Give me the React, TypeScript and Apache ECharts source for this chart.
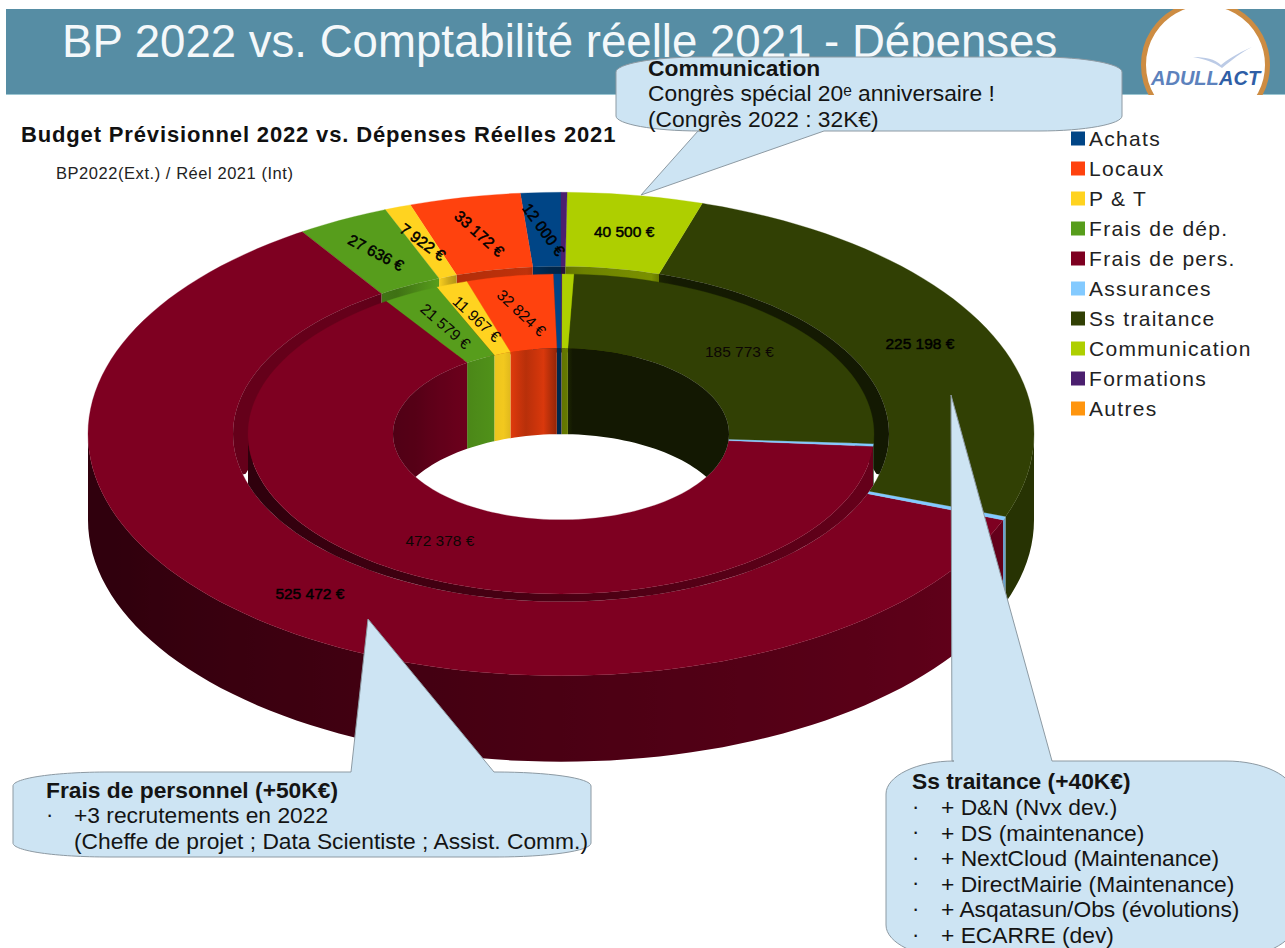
import React, { useEffect, useRef } from "react";
import * as echarts from "echarts";

const categories = ["Achats", "Locaux", "P & T", "Frais de dép.", "Frais de pers.", "Assurances", "Ss traitance", "Communication", "Formations", "Autres"];
const bp2022Values = [12000, 33172, 7922, 27636, 525472, 2200, 225198, 40500, 1800, 0];
const reel2021Values = [2900, 32824, 11967, 21579, 472378, 2000, 185773, 4500, 300, 0];
const colors = ["#004586", "#ff420e", "#ffd320", "#579d1c", "#7e0021", "#83caff", "#314004", "#aecf00", "#4b1f6f", "#ff950e"];
const bp2022LabelAngle = [54, 42, 36, 28, 0, null, 0, 0, null, null];
const reel2021LabelAngle = [null, 43, 43, 41, 0, null, 0, null, null, null];
const titleText = "BP 2022 vs. Comptabilité réelle 2021 - Dépenses";
const chartTitle = "Budget Prévisionnel 2022 vs. Dépenses Réelles 2021";
const chartSubtitle = "BP2022(Ext.) / Réel 2021 (Int)";
const commLines = ["Congrès spécial 20ᵉ anniversaire !", "(Congrès 2022 : 32K€)"];
const persLines = ["+3 recrutements en 2022", "(Cheffe de projet ; Data Scientiste ; Assist. Comm.)"];
const ssLines = ["+ D&N (Nvx dev.)", "+ DS (maintenance)", "+ NextCloud (Maintenance)", "+ DirectMairie (Maintenance)", "+ Asqatasun/Obs (évolutions)", "+ ECARRE (dev)"];

const FONT = '"Liberation Sans", Arial, sans-serif';
const CX = 561, CY = 434, K = 0.511, H = 86;
const R_OUT = 473, R_OUT_IN = 328, R_IN_OUT = 313, R_IN_IN = 168;
const RAD = Math.PI / 180;

const px = (r: number, a: number) => CX - r * Math.sin(a * RAD);
const py = (r: number, a: number) => CY - r * K * Math.cos(a * RAD);

function shade(hex: string, f: number) {
  const n = parseInt(hex.slice(1), 16);
  const c = (v: number) => Math.round(Math.min(255, v * f));
  return `rgb(${c((n >> 16) & 255)},${c((n >> 8) & 255)},${c(n & 255)})`;
}

// Light on walls that face outward: bright on the right, dark on the left.
function outerLight(a: number) {
  const theta = ((360 - a) % 360 + 360) % 360;
  const t = Math.max(0, Math.min(1, (theta - 110) / 140));
  return 0.8 - 0.42 * t;
}
// Light on walls that face the centre (back half of the rings).
const holeStops: number[][] = [[-90, 0.62], [-60, 0.68], [-35, 0.85], [-20, 0.95], [-12, 0.72], [-6, 0.85], [-1, 0.55], [3, 0.6], [3.2, 0.38], [90, 0.38]];
const grooveStops: number[][] = [[-90, 0.8], [-40, 0.8], [-30, 0.72], [-22, 1], [-19, 0.7], [-6, 0.75], [-1, 0.5], [3, 0.62], [16, 0.7], [19, 0.42], [90, 0.38]];
function stopLight(stops: number[][], a: number) {
  let theta = -a;
  while (theta < -180) theta += 360;
  for (let i = 1; i < stops.length; i++) {
    const [t0, v0] = stops[i - 1];
    const [t1, v1] = stops[i];
    if (theta <= t1) return v0 + ((v1 - v0) * (theta - t0)) / (t1 - t0);
  }
  return 0.38;
}

function breakpoints(a0: number, a1: number) {
  const out = [a0];
  for (let a = Math.floor(a0 / 2) * 2 + 2; a < a1; a += 2) out.push(a);
  out.push(a1);
  return out;
}

function ringTop(rOut: number, rIn: number, a0: number, a1: number, fill: string, z2: number) {
  const pts = breakpoints(a0, a1);
  const points: number[][] = [];
  pts.forEach((a) => points.push([px(rOut, a), py(rOut, a)]));
  pts.slice().reverse().forEach((a) => points.push([px(rIn, a), py(rIn, a)]));
  return { type: "polygon", z2, shape: { points }, style: { fill, stroke: fill, lineWidth: 0.3 } };
}

// Builds one wall polygon per visible, x-monotonic stretch of the slice, with a global horizontal gradient.
function walls(r: number, a0: number, a1: number, base: string, z2: number, front: boolean, clipR: number | null, light: (a: number) => number) {
  const ranges = front ? [[90, 270]] : [[0, 90], [270, 360]];
  const els: any[] = [];
  ranges.forEach(([lo, hi]) => {
    const s = Math.max(a0, lo), e = Math.min(a1, hi);
    if (e <= s) return;
    const pts = breakpoints(s, e);
    const bottom = (q: number) => {
      const x = px(r, q), y = py(r, q);
      if (front && clipR == null) return y + H;
      const rc = clipR == null ? r : clipR;
      const dx = (x - CX) / rc;
      return Math.min(y + H, CY + rc * K * Math.sqrt(Math.max(0, 1 - dx * dx)));
    };
    const points: number[][] = [];
    pts.forEach((a) => points.push([px(r, a), py(r, a)]));
    pts.slice().reverse().forEach((a) => points.push([px(r, a), bottom(a)]));
    const xs = pts.map((a) => px(r, a));
    const xMin = Math.min(...xs), xMax = Math.max(...xs);
    const span = Math.max(xMax - xMin, 0.01);
    const colorStops = pts
      .map((a) => ({ offset: (px(r, a) - xMin) / span, color: shade(base, light(a)) }))
      .sort((p, q) => p.offset - q.offset);
    const fill = { type: "linear", x: xMin, y: 0, x2: xMin + span, y2: 0, global: true, colorStops };
    els.push({ type: "polygon", z2, shape: { points }, style: { fill } });
  });
  return els;
}

const fmt = (v: number) => String(v).replace(/\B(?=(\d{3})+$)/g, " ") + " €";

function renderSlice(params: any, api: any) {
  const idx = params.seriesIndex;
  const ring = api.value(0);
  const values = ring === 0 ? bp2022Values : reel2021Values;
  const total = values.reduce((s, v) => s + v, 0);
  const before = values.slice(0, idx).reduce((s, v) => s + v, 0);
  const value = api.value(1);
  if (!value) return { type: "group", children: [] };
  const a0 = (before / total) * 360;
  const a1 = ((before + value) / total) * 360;
  const mid = (a0 + a1) / 2;
  const base = colors[idx];
  const children: any[] = [];
  const hole = (a: number) => stopLight(holeStops, a);
  const groove = (a: number) => stopLight(grooveStops, a);
  let labelR, angle;
  if (ring === 0) {
    children.push(...walls(R_OUT, a0, a1, base, 1, true, null, outerLight));
    children.push(ringTop(R_OUT, R_OUT_IN, a0, a1, base, 2));
    children.push(...walls(R_OUT_IN, a0, a1, base, 3, false, null, groove));
    labelR = (R_OUT + R_OUT_IN) / 2;
    angle = bp2022LabelAngle[idx];
  } else {
    children.push(...walls(R_IN_OUT, a0, a1, base, 4, true, R_OUT_IN, outerLight));
    children.push(ringTop(R_IN_OUT, R_IN_IN, a0, a1, base, 5));
    children.push(...walls(R_IN_IN, a0, a1, base, 6, false, null, hole));
    labelR = (R_IN_OUT + R_IN_IN) / 2;
    angle = reel2021LabelAngle[idx];
  }
  if (angle != null) {
    const bold = ring === 0;
    children.push({
      type: "text",
      z2: 10,
      x: px(labelR, mid),
      y: py(labelR, mid),
      rotation: -angle * RAD,
      style: {
        text: fmt(value),
        fill: bold ? "#000" : "#0c0604",
        stroke: bold ? "#000" : undefined,
        lineWidth: bold ? 0.5 : 0,
        font: `15.5px ${FONT}`,
        align: "center",
        verticalAlign: "middle",
      },
    });
  }
  return { type: "group", children };
}

echarts.graphic.registerShape("calloutComm", echarts.graphic.extendPath(
  "M616 72 C616 64 653 57 700 57 L1039 57 C1085 57 1122 64 1122 72 L1122 116 C1122 124 1085 131 1039 131 L824 131 L641 195 L698 131 L700 131 C653 131 616 124 616 116 Z", {}));
echarts.graphic.registerShape("calloutPers", echarts.graphic.extendPath(
  "M13 786 C13 778 56 772 109 772 L351 772 L368 619 L494 772 L495 772 C548 772 591 778 591 786 L591 843 C591 851 548 857 495 857 L109 857 C56 857 13 851 13 843 Z", {}));
echarts.graphic.registerShape("calloutSs", echarts.graphic.extendPath(
  "M886 794 C886 776 917 761 954 761 L952 761 L951 395 L1052 761 L1226 761 C1263 761 1294 776 1294 794 L1294 925 C1294 943 1263 958 1226 958 L954 958 C917 958 886 943 886 925 Z", {}));
echarts.graphic.registerShape("logoBird", echarts.graphic.extendPath(
  "M1193 57 C1205 57 1215 59 1221 65 C1232 56 1243 51 1252 47 C1240 53 1232 60 1222 68 C1214 62 1204 59 1193 57 Z", {}));

const calloutStyle = { fill: "#cde4f3", stroke: "#8d9aa3", lineWidth: 1 };
const txt = (x: number, y: number, text: string, size: number, bold = false, color = "#141414") => ({
  type: "text", x, y, z: 101,
  style: { text, fill: color, font: `${bold ? "bold " : ""}${size}px ${FONT}`, verticalAlign: "middle", align: "left" },
});

export default function App() {
  const ref = useRef<HTMLDivElement>(null);
  useEffect(() => {
    if (!ref.current) return;
    const chart = echarts.init(ref.current, undefined, { renderer: "svg" });
    const series = categories.map((name, i) => ({
      type: "custom",
      name,
      coordinateSystem: "none",
      renderItem: renderSlice,
      itemStyle: { color: colors[i] },
      silent: true,
      data: [[0, bp2022Values[i]], [1, reel2021Values[i]]],
    }));
    const graphic = [
      { type: "rect", z: 0, shape: { x: 6, y: 9, width: 1279, height: 86 }, style: { fill: "#568da4" } },
      { type: "rect", z: 0, shape: { x: 6, y: 94, width: 1279, height: 1 }, style: { fill: "#9cc6d2" } },
      { type: "text", z: 1, x: 62, y: 41, style: { text: titleText, fill: "#f4f8fa", font: `45.6px ${FONT}`, verticalAlign: "middle" } },
      { type: "circle", z: 1, shape: { cx: 1205.5, cy: 65, r: 62 }, style: { fill: "#fff", stroke: "#cd8c42", lineWidth: 5 } },
      { type: "rect", z: 1.5, shape: { x: 1135, y: 0, width: 140, height: 9 }, style: { fill: "#fff" } },
      { type: "rect", z: 1.5, shape: { x: 1135, y: 95, width: 140, height: 36 }, style: { fill: "#fff" } },
      { type: "logoBird", z: 2, style: { fill: "#bccbe6" } },
      { type: "text", z: 2, x: 1151, y: 78, style: { text: "ADULL", fill: "#5d82bd", font: `italic bold 20px ${FONT}`, verticalAlign: "middle" } },
      { type: "text", z: 2, x: 1219, y: 78, style: { text: "ACT", fill: "#2f5ea6", font: `italic bold 20px ${FONT}`, verticalAlign: "middle" } },
      { type: "calloutComm", z: 100, style: calloutStyle },
      { type: "calloutPers", z: 100, style: calloutStyle },
      { type: "calloutSs", z: 100, style: calloutStyle },
      txt(648, 68, "Communication", 22.8, true),
      txt(648, 93, commLines[0], 22.8),
      txt(648, 119, commLines[1], 22.8),
      txt(46, 790, "Frais de personnel (+50K€)", 22.8, true),
      txt(46, 814, "·", 22),
      txt(74, 815, persLines[0], 22.8),
      txt(74, 841, persLines[1], 22.8),
      txt(912, 781, "Ss traitance (+40K€)", 22.8, true),
      ...ssLines.flatMap((line, i) => [txt(912, 806 + i * 25.6, "·", 22), txt(941, 807 + i * 25.6, line, 22.8)]),
    ];
    chart.setOption({
      animation: false,
      backgroundColor: "#fff",
      title: [
        { text: chartTitle, left: 21, top: 123, padding: 0, textStyle: { fontFamily: FONT, fontWeight: "bold", fontSize: 22, color: "#111" } },
        { text: chartSubtitle, left: 56, top: 164, padding: 0, textStyle: { fontFamily: FONT, fontWeight: "normal", fontSize: 16.5, color: "#222" } },
      ],
      legend: {
        orient: "vertical",
        left: 1071,
        top: 128,
        padding: 0,
        icon: "rect",
        itemWidth: 14,
        itemHeight: 14,
        itemGap: 9,
        selectedMode: false,
        data: categories,
        textStyle: { fontFamily: FONT, fontSize: 21, color: "#222", padding: [0, 0, 0, -1] },
      },
      graphic,
      series,
    });
    ref.current.querySelectorAll("text").forEach((t) => {
      const s = t.textContent || "";
      const bold = String(t.getAttribute("style") || "").includes("bold") && s !== chartTitle;
      if (bold) return;
      const spacing = categories.includes(s) ? "1.3px" : s === chartTitle ? "0.85px" : s === chartSubtitle ? "0.55px" : "";
      if (spacing) (t as any).style.letterSpacing = spacing;
    });
    return () => chart.dispose();
  }, []);
  return <div ref={ref} style={{ position: "fixed", left: 0, top: 0, width: 1285, height: 948 }} />;
}
